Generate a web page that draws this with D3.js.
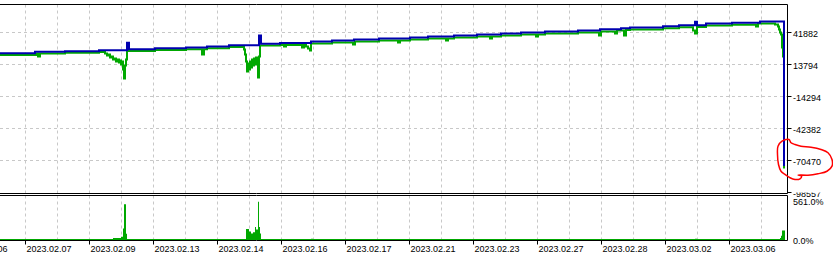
<!DOCTYPE html>
<html>
<head>
<meta charset="utf-8">
<script src="https://cdn.jsdelivr.net/npm/d3@7"></script>
<style>
  body { margin: 0; background: #fff; }
  svg { display: block; font-family: 'Liberation Sans', Arial, sans-serif; }
</style>
</head>
<body>
<svg></svg>
<script>
// date labels, one every 64 deals (the first one is cut off on the left)
const dateLabels = ['2023.02.06', '2023.02.07', '2023.02.09', '2023.02.13', '2023.02.14', '2023.02.16',
  '2023.02.17', '2023.02.21', '2023.02.23', '2023.02.27', '2023.02.28', '2023.03.02', '2023.03.06']

// right axis ticks
const valueTicks = [41882, 13794, -14294, -42382, -70470, -98557]
const percentTicks = [561, 0]

// balance (blue) as [deal, value]
const balance = [
  [0, 23700], [35, 24900], [65, 25500], [99, 26300], [127, 32800], [129, 27200], [155, 28100],
  [186, 28700], [207, 29600], [229, 30700], [259, 39200], [261, 32000], [280, 32700], [311, 34000],
  [332, 34900], [354, 35700], [379, 36600], [410, 37500], [428, 38400], [454, 39200], [477, 40100],
  [501, 41000], [521, 41900], [545, 42800], [578, 43600], [600, 44800], [621, 45700], [630, 46300],
  [663, 47400], [679, 48300], [695, 51300], [697, 48300], [706, 49800], [732, 50400], [760, 51500],
  [784, -75300]
]

// equity (green) as [deal, value]
const equity = [
  [0, 22100], [36, 23400], [38, 20800], [40, 23400], [65, 24100], [99, 24800], [105, 23400],
  [107, 21700], [109, 22600], [110, 19900], [112, 20800], [113, 18200], [115, 19100], [116, 16400],
  [118, 18200], [119, 15600], [120, 17300], [121, 13800], [122, 16400], [123, 9400], [124, 1500],
  [125, 12900], [126, 18200], [127, 25600], [155, 26500], [186, 27100], [202, 22600], [204, 27100],
  [207, 28000], [229, 29200], [244, 27000], [245, 22600], [246, 16400], [247, 7700], [248, 14700],
  [249, 9400], [250, 16400], [251, 11200], [252, 18200], [253, 12900], [254, 19100], [255, 13800],
  [256, 19900], [257, 15600], [258, 2400], [259, 20800], [260, 30500], [280, 30900], [284, 29600],
  [286, 30900], [302, 28700], [304, 30900], [306, 29600], [308, 27800], [310, 26100], [311, 32200],
  [332, 33100], [353, 31400], [355, 34000], [379, 34900], [398, 33100], [400, 34900], [410, 35700],
  [428, 36600], [446, 34900], [448, 36600], [454, 37500], [477, 38400], [490, 36600], [492, 38400],
  [501, 39200], [521, 40100], [536, 38400], [538, 40100], [545, 41000], [578, 41900], [599, 39200],
  [601, 42800], [615, 41000], [617, 43600], [624, 39200], [626, 44100], [630, 44500], [663, 45700],
  [679, 46500], [693, 43600], [695, 41000], [697, 46700], [706, 48000], [732, 48600], [756, 47100],
  [758, 49800], [775, 48900], [778, 47100], [779, 44500], [780, 41900], [781, 40100], [782, 28700],
  [783, 20800], [784, -77500]
]

// drawdown % (lower pane) as [deal, percent]
const drawdown = [
  [0, 0], [38, 13], [40, 0], [113, 26], [121, 42], [123, 146], [124, 457], [126, 81], [127, 0],
  [202, 10], [204, 0], [246, 139], [249, 109], [251, 84], [253, 100], [255, 165], [256, 135],
  [258, 488], [259, 165], [260, 84], [261, 0], [311, 15], [313, 0], [695, 15], [697, 0],
  [776, 13], [780, 26], [781, 55], [782, 120], [785, 0]
]

// red hand drawn mark round the last value label, as [deal, value]
const markup = [
  [789, -52000], [782, -53500], [778, -57900], [777.5, -65200], [778.5, -74000], [781, -79900],
  [785, -82700], [790, -85600], [795, -87100], [800, -86500], [801.5, -84200], [798, -83300],
  [808, -83400], [818, -82100], [827, -79900], [832, -75400], [832, -69600], [828, -63700],
  [821, -60800], [811, -58800], [801, -57900], [795, -56400], [791, -54900]
]

// canvas and panes
const width = 833
const height = 255
const paneRight = 787.5
const mainTop = 4.5
const mainBottom = 193.5
const subTop = 195.5
const subBottom = 240.5

const svg = d3.select('svg')
  .attr('width', width)
  .attr('height', height)

const xScale = d3.scaleLinear().domain([0, 787]).range([0, 787])
const yScale = d3.scaleLinear().domain([valueTicks[5], valueTicks[0]]).range([192.5, 32.5])
const pctScale = d3.scaleLinear().domain([0, 561]).range([240, 196])

function drawGrid () {
  const grid = svg.append('g')
    .attr('stroke', '#c8c8c8')
    .attr('stroke-dasharray', '3,3')
  // vertical lines every 32 deals
  const gridDeals = d3.range(25.5, paneRight, 32)
  grid.selectAll('.vmain')
    .data(gridDeals)
    .enter()
    .append('line')
    .attr('x1', d => xScale(d))
    .attr('x2', d => xScale(d))
    .attr('y1', mainTop)
    .attr('y2', mainBottom)
  grid.selectAll('.vsub')
    .data(gridDeals)
    .enter()
    .append('line')
    .attr('x1', d => xScale(d))
    .attr('x2', d => xScale(d))
    .attr('y1', subTop)
    .attr('y2', subBottom)
  grid.selectAll('.h')
    .data(valueTicks.slice(0, 5))
    .enter()
    .append('line')
    .attr('x1', 0)
    .attr('x2', paneRight)
    .attr('y1', d => yScale(d))
    .attr('y2', d => yScale(d))
}

function drawLines () {
  const line = d3.line()
    .x(d => xScale(d[0]))
    .y(d => yScale(d[1]))
    .curve(d3.curveStepAfter)
  svg.append('path')
    .datum(equity)
    .attr('d', line)
    .attr('fill', 'none')
    .attr('stroke', '#00a800')
    .attr('stroke-width', 2)
  svg.append('path')
    .datum(balance)
    .attr('d', line)
    .attr('fill', 'none')
    .attr('stroke', '#0000b0')
    .attr('stroke-width', 2)
}

function drawDrawdown () {
  const area = d3.area()
    .x(d => xScale(d[0]))
    .y0(pctScale(0))
    .y1(d => pctScale(d[1]))
    .curve(d3.curveStepAfter)
  svg.append('path')
    .datum(drawdown)
    .attr('d', area)
    .attr('fill', '#00a800')
  svg.append('line')
    .attr('x1', 0)
    .attr('x2', xScale(785))
    .attr('y1', pctScale(0) - 0.5)
    .attr('y2', pctScale(0) - 0.5)
    .attr('stroke', '#00a800')
}

function drawFrames () {
  const frame = svg.append('g').attr('stroke', '#000').attr('fill', 'none')
  frame.append('path').attr('d', `M0,${mainTop}H${paneRight}V${mainBottom}H0`)
  frame.append('path').attr('d', `M0,${subTop}H${paneRight}V${subBottom}H0`)
}

function drawAxes () {
  // clip so the lowest value label is cut by the pane edge like the original
  svg.append('clipPath').attr('id', 'lowclip')
    .append('rect').attr('x', 0).attr('y', 192.5).attr('width', width).attr('height', 10)

  const right = svg.append('g').attr('font-size', '9px').attr('fill', '#000')
  right.selectAll('.tick')
    .data(valueTicks)
    .enter()
    .append('line')
    .attr('x1', paneRight)
    .attr('x2', paneRight + 4)
    .attr('y1', d => yScale(d))
    .attr('y2', d => yScale(d))
    .attr('stroke', '#000')
  right.selectAll('.lbl')
    .data(valueTicks)
    .enter()
    .append('text')
    .attr('x', 793)
    .attr('y', d => yScale(d) + 4)
    .attr('clip-path', (d, i) => i === 5 ? 'url(#lowclip)' : null)
    .text(d => d)
  right.selectAll('.pct')
    .data(percentTicks)
    .enter()
    .append('text')
    .attr('x', 793)
    .attr('y', d => Math.max(pctScale(d) + 4, subTop + 9.5))
    .text(d => d.toFixed(1) + '%')

  const bottom = svg.append('g').attr('font-size', '9px').attr('fill', '#000')
  const labelDeal = (d, i) => -38.5 + 64 * i
  bottom.selectAll('line')
    .data(dateLabels)
    .enter()
    .append('line')
    .attr('x1', (d, i) => xScale(labelDeal(d, i)))
    .attr('x2', (d, i) => xScale(labelDeal(d, i)))
    .attr('y1', subBottom)
    .attr('y2', subBottom + 4)
    .attr('stroke', '#000')
  bottom.selectAll('text')
    .data(dateLabels)
    .enter()
    .append('text')
    .attr('x', (d, i) => xScale(labelDeal(d, i)) + 1)
    .attr('y', 251.5)
    .text(d => d)
}

function drawMarkup () {
  const pen = d3.line()
    .x(d => xScale(d[0]))
    .y(d => yScale(d[1]))
    .curve(d3.curveCatmullRomClosed)
  svg.append('path')
    .datum(markup)
    .attr('d', pen)
    .attr('fill', 'none')
    .attr('stroke', '#ff0000')
    .attr('stroke-width', 1.5)
}

drawGrid()
drawLines()
drawDrawdown()
drawFrames()
drawAxes()
drawMarkup()
</script>
</body>
</html>
